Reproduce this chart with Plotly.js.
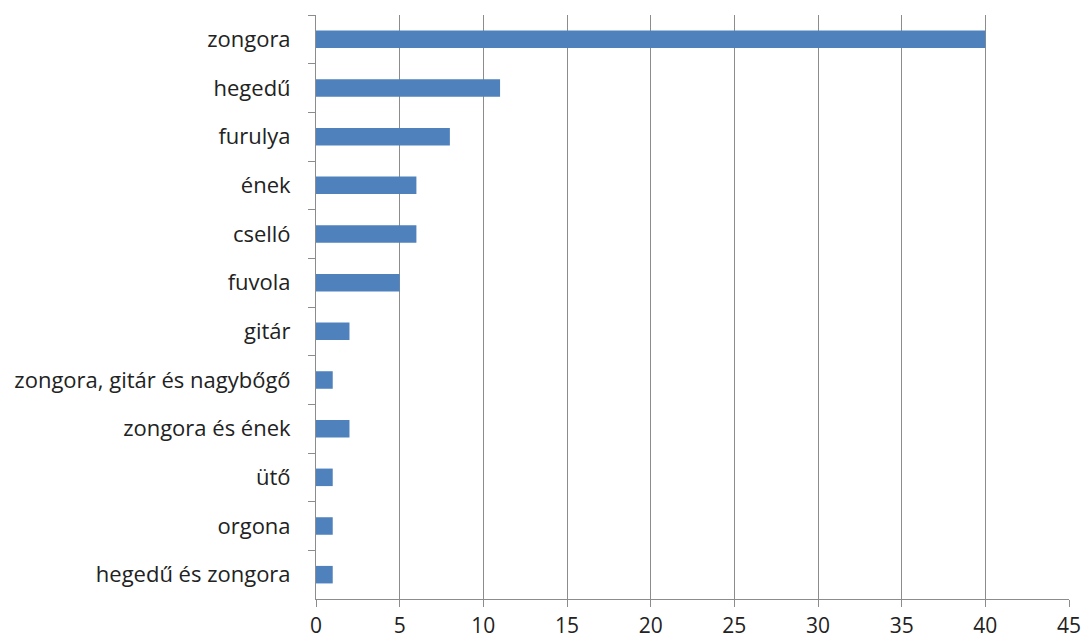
<!DOCTYPE html>
<html>
<head>
<meta charset="utf-8">
<script src="https://cdn.plot.ly/plotly-3.0.1.min.js"></script>
<style>html,body{margin:0;padding:0;background:#fff;}#chart{width:1086px;height:642px;}</style>
</head>
<body>
<div id="chart"></div>
<script>
const categories = ["zongora", "hegedű", "furulya", "ének", "cselló", "fuvola", "gitár", "zongora, gitár és nagybőgő", "zongora és ének", "ütő", "orgona", "hegedű és zongora"];
const values = [40, 11, 8, 6, 6, 5, 2, 1, 2, 1, 1, 1];
const xTicks = [0, 5, 10, 15, 20, 25, 30, 35, 40, 45];

const trace = {
  type: "bar",
  orientation: "h",
  y: categories,
  x: values,
  marker: {color: "#4F81BD"},
  hoverinfo: "x+y"
};

const layout = {
  width: 1086,
  height: 642,
  margin: {l: 316, r: 17, t: 15, b: 43},
  paper_bgcolor: "#ffffff",
  plot_bgcolor: "#ffffff",
  bargap: 0.64,
  showlegend: false,
  font: {family: "Open Sans, sans-serif", size: 22, color: "#222222"},
  xaxis: {
    range: [0, 45],
    tickvals: xTicks,
    ticktext: xTicks.map(String),
    tickfont: {size: 21},
    showgrid: true,
    gridcolor: "#8c8c8c",
    gridwidth: 1,
    showline: true,
    linecolor: "#8c8c8c",
    linewidth: 1,
    ticks: "outside",
    ticklen: 7,
    tickcolor: "#8c8c8c",
    zeroline: false,
    ticklabelstandoff: 1,
    fixedrange: true
  },
  yaxis: {
    type: "category",
    autorange: "reversed",
    showline: true,
    linecolor: "#8c8c8c",
    linewidth: 1,
    ticks: "outside",
    tickson: "boundaries",
    ticklen: 7,
    tickcolor: "#8c8c8c",
    showgrid: false,
    zeroline: false,
    ticklabelstandoff: 20,
    fixedrange: true
  }
};

Plotly.newPlot("chart", [trace], layout, {displayModeBar: false, staticPlot: true});
</script>
</body>
</html>
